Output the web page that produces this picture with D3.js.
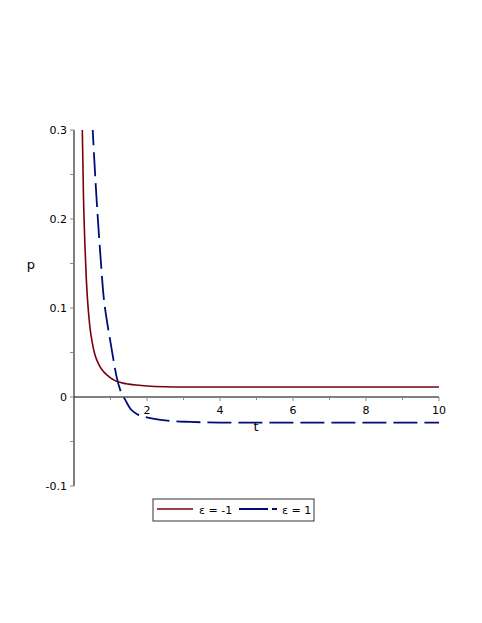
<!DOCTYPE html>
<html><head><meta charset="utf-8">
<script src="https://cdn.jsdelivr.net/npm/d3@7"></script>
<style>body{margin:0;background:#fff}svg{display:block}text{font-family:"DejaVu Sans",sans-serif}</style>
</head><body>
<script>
const xTicks = [2,4,6,8,10];
const yTicks = [-0.1,0,0.1,0.2,0.3];
const yTickLabels = ["-0.1","0","0.1","0.2","0.3"];
const seriesNames = ["ε = -1","ε = 1"];
const tRed = [0.22,0.227,0.26,0.30,0.337,0.37,0.41,0.45,0.50,0.57,0.64,0.70,0.80,0.91,1.0,1.1,1.21,1.37,1.5,1.7,2.0,2.5,3.2,4,6,8,10];
const pRed = [0.32,0.302,0.225,0.17,0.133,0.11,0.089,0.074,0.061,0.048,0.040,0.035,0.029,0.0245,0.0215,0.019,0.017,0.0153,0.0145,0.0135,0.0124,0.0116,0.0113,0.0112,0.0112,0.0112,0.0112];
const tBlue = [0.50,0.51,0.60,0.67,0.74,0.80,0.90,0.99,1.08,1.17,1.27,1.35,1.40,1.55,1.72,1.92,2.2,2.56,3.2,4,6,8,10];
const pBlue = [0.31,0.302,0.235,0.19,0.15,0.118,0.086,0.064,0.042,0.022,0.0075,0.0005,-0.003,-0.0135,-0.019,-0.022,-0.0245,-0.0266,-0.028,-0.0287,-0.0288,-0.0288,-0.0288];

const W=482,H=623;
const x = d3.scaleLinear().domain([0,10]).range([74,439]);
const y = d3.scaleLinear().domain([-0.1,0.3]).range([486,130]);
const svg = d3.select("body").append("svg").attr("width",W).attr("height",H);

svg.append("defs").append("clipPath").attr("id","clip")
  .append("rect").attr("x",x(0)).attr("y",y(0.3)).attr("width",x(10)-x(0)).attr("height",y(-0.1)-y(0.3));

// x axis
const xAxis = svg.append("g").attr("transform",`translate(0,${y(0)})`);
xAxis.append("line").attr("x1",x(0)).attr("x2",x(10)).attr("stroke","#000");
d3.range(1,11).forEach(v=>{
  xAxis.append("line").attr("x1",x(v)).attr("x2",x(v)).attr("y1",0).attr("y2",v%2===0?4:3).attr("stroke","#888");
});
xTicks.forEach(v=>{
  xAxis.append("text").attr("x",x(v)).attr("y",17).attr("text-anchor","middle").attr("font-size",11).text(v);
});
// y axis
const yAxis = svg.append("g").attr("transform",`translate(${x(0)},0)`);
yAxis.append("line").attr("y1",y(-0.1)).attr("y2",y(0.3)).attr("stroke","#000");
d3.range(-0.1,0.3001,0.05).forEach(v=>{
  yAxis.append("line").attr("x1",0).attr("x2",-4).attr("y1",y(v)).attr("y2",y(v)).attr("stroke","#888");
});
yTicks.forEach((v,i)=>{
  yAxis.append("text").attr("x",-7).attr("y",y(v)).attr("dy","0.35em").attr("text-anchor","end").attr("font-size",11).text(yTickLabels[i]);
});

svg.append("text").attr("x",31).attr("y",269).attr("text-anchor","middle").attr("font-size",13).text("p");
svg.append("text").attr("x",256).attr("y",431).attr("text-anchor","middle").attr("font-size",13).text("t");

const line = d3.line().x(d=>x(d[0])).y(d=>y(d[1])).curve(d3.curveMonotoneX);
const red = "#78000E", blue = "#000C78";
svg.append("path").attr("clip-path","url(#clip)").attr("d",line(tRed.map((t,i)=>[t,pRed[i]])))
  .attr("fill","none").attr("stroke",red).attr("stroke-width",1.6);
svg.append("path").attr("clip-path","url(#clip)").attr("d",line(tBlue.map((t,i)=>[t,pBlue[i]])))
  .attr("fill","none").attr("stroke",blue).attr("stroke-width",1.8).attr("stroke-dasharray","24,7");

// legend
const lg = svg.append("g");
lg.append("rect").attr("x",153).attr("y",499).attr("width",161).attr("height",22).attr("fill","#fff").attr("stroke","#333").attr("stroke-width",1);
lg.append("line").attr("x1",157).attr("x2",193).attr("y1",509).attr("y2",509).attr("stroke",red).attr("stroke-width",1.6);
lg.append("text").attr("x",199).attr("y",514).attr("font-size",11).text(seriesNames[0]);
lg.append("line").attr("x1",239).attr("x2",277).attr("y1",509).attr("y2",509).attr("stroke",blue).attr("stroke-width",1.8).attr("stroke-dasharray","29,4,5,100");
lg.append("text").attr("x",282).attr("y",514).attr("font-size",11).text(seriesNames[1]);
</script>
</body></html>
